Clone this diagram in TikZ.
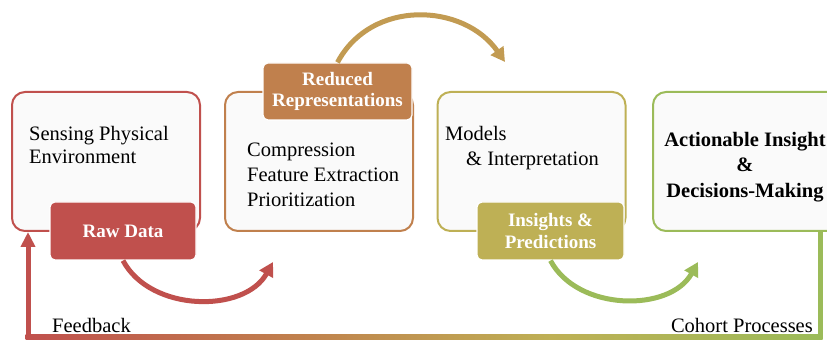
\documentclass[tikz,border=0pt]{standalone}
\usepackage{fontspec}
\setmainfont{Liberation Serif}
\usetikzlibrary{arrows.meta}

\definecolor{cRed}{HTML}{C0504D}
\definecolor{cOrange}{HTML}{C0804D}
\definecolor{cGold}{HTML}{C29B52}
\definecolor{cOlive}{HTML}{BEB055}
\definecolor{cGreen}{HTML}{9BBB59}
\definecolor{cPaper}{HTML}{FAFAFA}
\pgfdeclarehorizontalshading{feedback}{100bp}{color(0bp)=(cRed); color(25bp)=(cRed); color(42bp)=(cOrange); color(58bp)=(cOlive); color(75bp)=(cGreen); color(100bp)=(cGreen)}

\begin{document}
\begin{tikzpicture}[x=1pt,y=1pt,
  stage/.style={draw, line width=2pt, fill=cPaper, rounded corners=13pt, minimum width=188pt, minimum height=139pt, inner sep=0pt},
  tag/.style={draw=white, line width=1.2pt, rounded corners=5pt, text=white, font=\fontsize{19}{21.5}\selectfont\bfseries, align=center, minimum height=58pt, inner sep=0pt},
  body/.style={font=\fontsize{20.5}{25}\selectfont, align=left, inner sep=0pt},
  flow/.style={line width=5pt, -{Triangle[length=14pt,width=15pt]}}]
  \useasboundingbox (0,0) rectangle (827,342);
  % the four stages
  \foreach \n/\x/\c in {sense/106/cRed, reduce/319/cOrange, model/531.5/cOlive, act/747/cGreen}
    \node[stage, draw=\c] (\n) at (\x,180.5) {};
  \node[body, anchor=north west, font=\fontsize{20.5}{23}\selectfont] (senseTxt) at (29,216) {Sensing Physical\\Environment};
  \node[body, anchor=north west] (reduceTxt) at (247,199) {Compression\\Feature Extraction\\Prioritization};
  \node[body, anchor=north west] (modelTxt) at (445,216) {Models\\\hspace*{21pt}\& Interpretation};
  \node[body, align=center, font=\fontsize{20.5}{25.5}\selectfont\bfseries] (actTxt) at (745,175) {Actionable Insight\\\&\\Decisions-Making};
  % outputs of each stage
  \node[tag, fill=cRed, minimum width=146pt] (raw) at (123,111) {Raw Data};
  \node[tag, fill=cOrange, minimum width=149pt, minimum height=57pt] (rep) at (337.5,250.5) {Reduced\\Representations};
  \node[tag, fill=cOlive, minimum width=147pt] (ins) at (550.5,111) {Insights \&\\Predictions};
  % hand-over arcs
  \coordinate (repIn) at (273,80);
  \coordinate (modelIn) at (505,280);
  \coordinate (actIn) at (698,80);
  \draw[flow, cRed] (raw.south) to[out=-62,in=-119] (repIn);
  \draw[flow, cGold] (rep.north) to[out=62,in=125,looseness=1.1] (modelIn);
  \draw[flow, cGreen] (ins.south) to[out=-62,in=-119] (actIn);
  % feedback loop back to sensing
  \coordinate (fbL) at (28,5);
  \coordinate (fbR) at (820,5);
  \draw[line width=5pt, cGreen] (act.south -| fbR) -- (fbR);
  \shade[shading=feedback] ([xshift=-2.5pt,yshift=-2.5pt]fbL) rectangle ([xshift=2.5pt,yshift=2.5pt]fbR);
  \draw[line width=5pt, cRed, -{Triangle[length=15pt,width=14pt]}] (fbL) -- (sense.south -| fbL);
  \node[body, anchor=base west] (fbTxt) at (52,9) {Feedback};
  \node[body, anchor=base east] (cohortTxt) at (813,9) {Cohort Processes};
\end{tikzpicture}
\end{document}
